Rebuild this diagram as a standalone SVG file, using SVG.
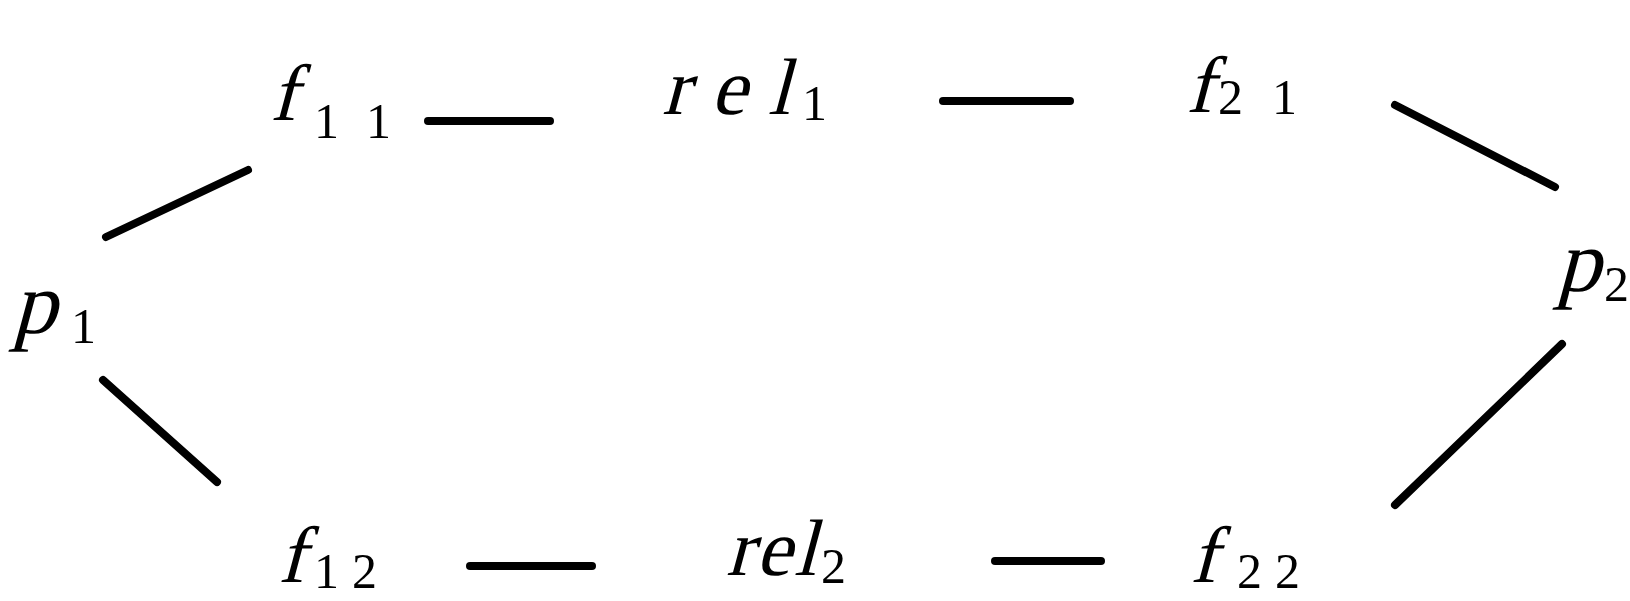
<svg xmlns="http://www.w3.org/2000/svg" width="1630" height="601" viewBox="0 0 1630 601">
<style>
.t{font-family:"Liberation Serif","Times New Roman",serif;font-style:normal;font-size:80px;fill:#000}
.s{font-family:"Liberation Serif","Times New Roman",serif;font-style:normal;font-size:50px;fill:#000}
.e{stroke:#000;stroke-width:8;stroke-linecap:round;fill:none}
</style>
<rect width="1630" height="601" fill="#fff"/>
<g id="connectors">
<line class="e" x1="106" y1="237" x2="248" y2="170"/>
<line class="e" x1="428" y1="121" x2="550" y2="121"/>
<line class="e" x1="943" y1="101" x2="1070" y2="101"/>
<line class="e" x1="1395" y1="105" x2="1555" y2="187"/>
<line class="e" x1="103" y1="380" x2="217" y2="482"/>
<line class="e" x1="470" y1="566" x2="592" y2="566"/>
<line class="e" x1="995" y1="561" x2="1101" y2="561"/>
<line class="e" x1="1395" y1="505" x2="1562" y2="344"/>
</g>
<g id="p1"><text class="t" transform="translate(12,333) skewX(-15)" style="font-size:88px">p</text><text class="s" x="71" y="343">1</text></g>
<g id="f11"><text class="t" transform="translate(270,120) skewX(-15)">f</text><text class="s" x="314" y="138">1</text><text class="s" x="366" y="138">1</text></g>
<g id="rel1"><text class="t" transform="translate(662,114) skewX(-15)" textLength="128" lengthAdjust="spacing">rel</text><text class="s" x="802" y="120">1</text></g>
<g id="f21"><text class="t" transform="translate(1186,112) skewX(-15)">f</text><text class="s" x="1218" y="114">2</text><text class="s" x="1272" y="114">1</text></g>
<g id="p2"><text class="t" transform="translate(1556,291) skewX(-15)" style="font-size:88px">p</text><text class="s" x="1604" y="301">2</text></g>
<g id="f12"><text class="t" transform="translate(278,582) skewX(-15)">f</text><text class="s" x="314" y="588">1</text><text class="s" x="352" y="588">2</text></g>
<g id="rel2"><text class="t" transform="translate(726,575) skewX(-15)" textLength="90" lengthAdjust="spacing">rel</text><text class="s" x="821" y="583">2</text></g>
<g id="f22"><text class="t" transform="translate(1190,582) skewX(-15)">f</text><text class="s" x="1237" y="588">2</text><text class="s" x="1275" y="588">2</text></g>
</svg>
